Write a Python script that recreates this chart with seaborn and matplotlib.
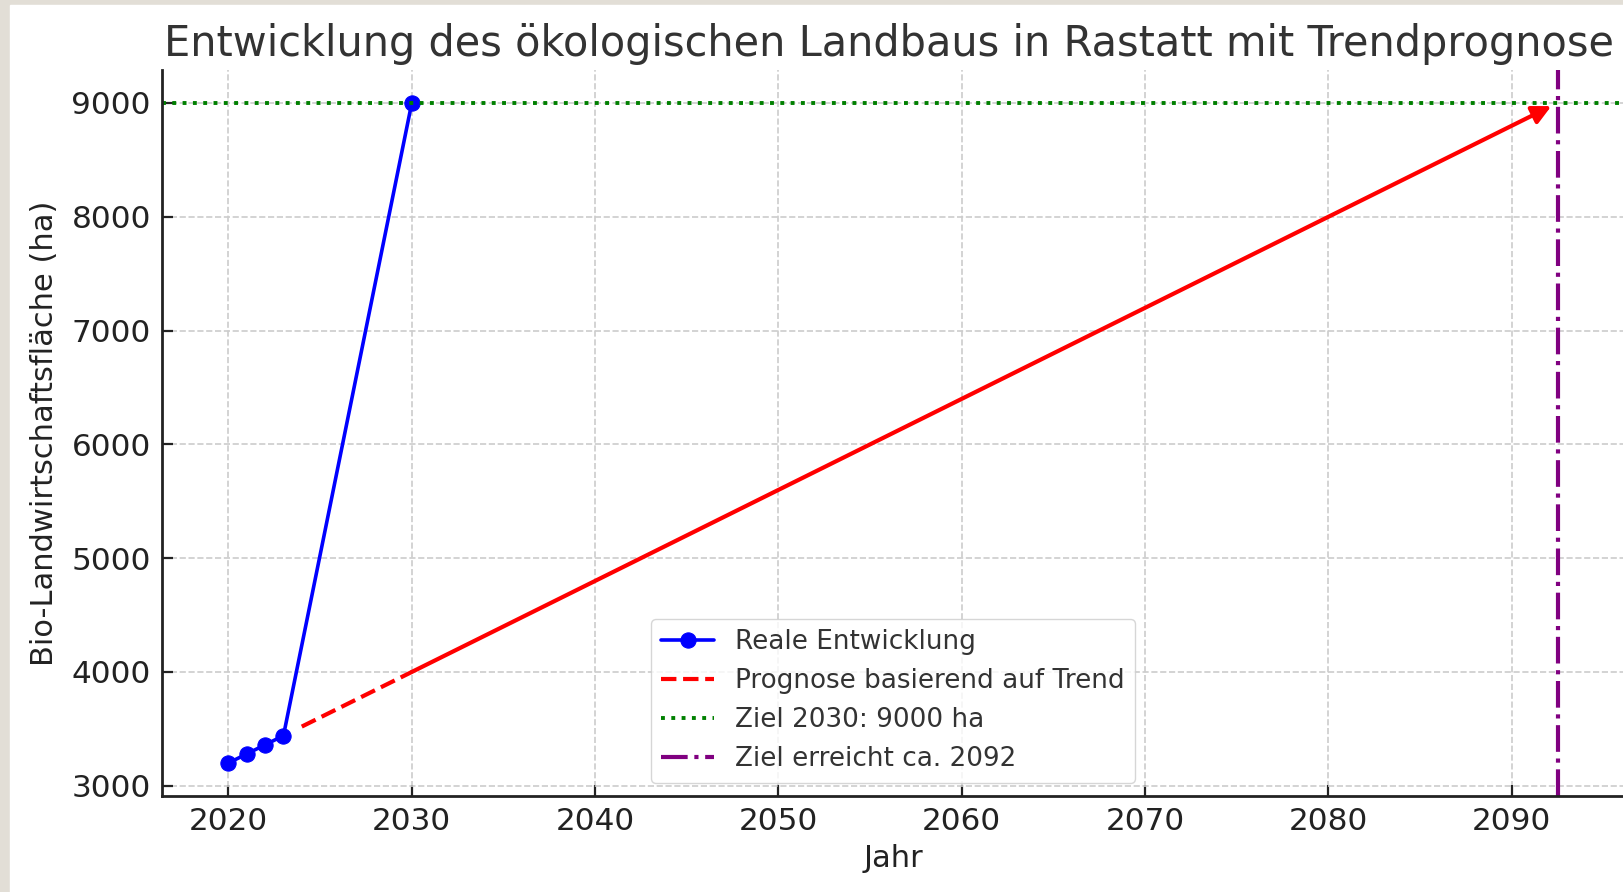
import matplotlib
matplotlib.use("Agg")
import matplotlib.pyplot as plt
import matplotlib.patches as mpatches
import seaborn as sns
import pandas as pd

# Daten
jahre_real = [2020, 2021, 2022, 2023, 2030]
flaeche_real = [3200, 3280, 3360, 3440, 9000]

jahre_prognose = [2024, 2025, 2026, 2027, 2028, 2029, 2030]
flaeche_prognose = [3520, 3600, 3680, 3760, 3840, 3920, 4000]

ziel_flaeche = 9000
ziel_jahr = 2092.5

df_real = pd.DataFrame({"Jahr": jahre_real, "Flaeche": flaeche_real})
df_prog = pd.DataFrame({"Jahr": jahre_prognose, "Flaeche": flaeche_prognose})

sns.set_theme(style="whitegrid")
plt.rcParams["font.family"] = ["DejaVu Sans"]

fig = plt.figure(figsize=(16.24, 8.92), dpi=100)
fig.patch.set_facecolor("#e2ded6")
fig.add_artist(mpatches.Rectangle((10 / 1624, 0), 1, (892 - 5) / 892,
                                  transform=fig.transFigure, color="white", zorder=-10))
ax = fig.add_axes([162 / 1624, (892 - 796) / 892, (1624 - 162) / 1624, (796 - 70) / 892])
ax.set_facecolor("white")

sns.lineplot(data=df_real, x="Jahr", y="Flaeche", ax=ax, color="blue", marker="o",
             markersize=11, markeredgecolor="blue", linewidth=2.6, label="Reale Entwicklung")
sns.lineplot(data=df_prog, x="Jahr", y="Flaeche", ax=ax, color="red", linestyle="--",
             linewidth=3, label="Prognose basierend auf Trend")
ax.axhline(ziel_flaeche, color="green", linestyle=":", linewidth=2.8, label="Ziel 2030: 9000 ha")
ax.axvline(ziel_jahr, color="purple", linestyle="-.", linewidth=3, label="Ziel erreicht ca. 2092")

ax.annotate("", xy=(ziel_jahr, ziel_flaeche), xytext=(jahre_prognose[-1], flaeche_prognose[-1]),
            arrowprops=dict(arrowstyle="-|>", color="red", lw=3, mutation_scale=28,
                            shrinkA=0, shrinkB=5))

ax.set_title("Entwicklung des ökologischen Landbaus in Rastatt mit Trendprognose",
             fontsize=29.9, color="#333333", pad=10, x=0.497)
ax.set_xlabel("Jahr", fontsize=22, color="#222222", labelpad=6)
ax.set_ylabel("Bio-Landwirtschaftsfläche (ha)", fontsize=22, color="#222222", labelpad=9)

ax.grid(True, linestyle="--", color="#cccccc", linewidth=1.2)
for side in ["top", "right"]:
    ax.spines[side].set_visible(False)
for side in ["left", "bottom"]:
    ax.spines[side].set_color("#222222")
    ax.spines[side].set_linewidth(2)
ax.tick_params(axis="both", direction="in", length=8, width=1.6, labelsize=22.4,
               colors="#222222", left=True, bottom=True, pad=8)

leg = ax.legend(loc="lower center", fontsize=18.9, frameon=True)
leg.get_frame().set_edgecolor("#cccccc")
for t in leg.get_texts():
    t.set_color("#333333")

fig.savefig("out.png", dpi=100, facecolor=fig.get_facecolor())
